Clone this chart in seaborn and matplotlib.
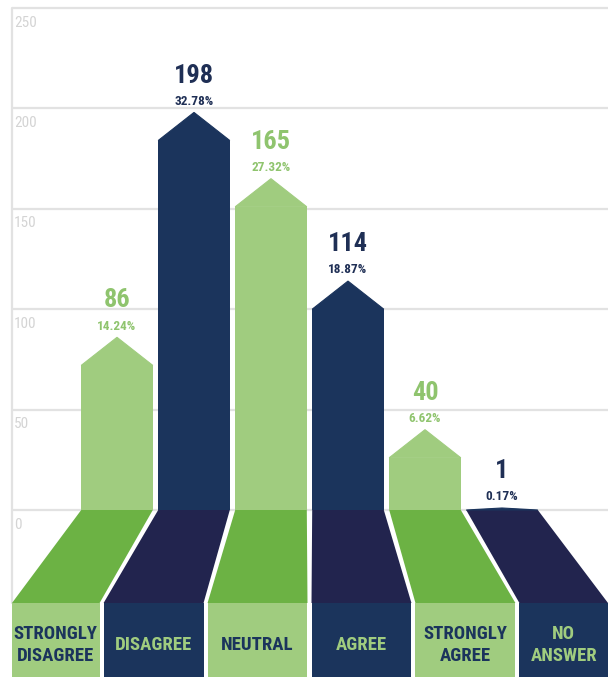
import numpy as np
import pandas as pd
import matplotlib
matplotlib.use("Agg")
import matplotlib.pyplot as plt
import seaborn as sns

# data
categories = ["STRONGLY\nDISAGREE", "DISAGREE", "NEUTRAL", "AGREE", "STRONGLY\nAGREE", "NO\nANSWER"]
counts = [86, 198, 165, 114, 40, 1]
percents = ["14.24%", "32.78%", "27.32%", "18.87%", "6.62%", "0.17%"]
yticks = [0, 50, 100, 150, 200, 250]

# colours
LIGHT_GREEN = "#a0cc7f"
NAVY = "#1b345c"
FLOOR_GREEN = "#6cb244"
FLOOR_NAVY = "#22244e"
VALUE_GREEN = "#8fc46e"
VALUE_NAVY = "#1f2f55"
GRID = "#e2e2e2"
TICK = "#d4d4d4"

sns.set_theme(style="white")
plt.rcParams["font.family"] = ["Roboto Condensed", "Liberation Sans Narrow", "DejaVu Sans"]
plt.rcParams["font.stretch"] = "condensed"

W, H = 608, 677
fig = plt.figure(figsize=(W / 100, H / 100), dpi=100)
ax = fig.add_axes([0, 0, 1, 1])

# layout (pixel geometry of the original -> data units)
px_per_unit = 2.008
base_px = 510
step_px = 77
first_px = 117
ROOF = 14          # depth of the pointed top
BAR_W = 0.93
FLOOR_Y = -(603 - base_px) / px_per_unit
FAN = 1.35         # how much the floor widens towards the labels
GAP = 0.026

colors = [LIGHT_GREEN, NAVY] * 3
floor_colors = [FLOOR_GREEN, FLOOR_NAVY] * 3
value_colors = [VALUE_GREEN, VALUE_NAVY] * 3
text_colors = [NAVY, LIGHT_GREEN] * 3

shafts = [max(v - ROOF, 0) for v in counts]
df = pd.DataFrame({"category": categories, "shaft": shafts})

sns.barplot(data=df, x="category", y="shaft", hue="category", palette=colors,
            width=BAR_W, linewidth=0, saturation=1, legend=False, ax=ax, zorder=3)

ymin = (base_px - H) / px_per_unit
ymax = base_px / px_per_unit
xmin = -first_px / step_px
xmax = (W - first_px) / step_px
x0 = (12 - first_px) / step_px  # left rule of the plot

# grid + left rule
ax.hlines(yticks, x0, xmax, color=GRID, lw=1.6, zorder=1)
ax.plot([x0, x0], [FLOOR_Y, yticks[-1]], color=GRID, lw=1.6, zorder=1)
for t in yticks:
    ax.annotate(str(t), xy=(x0, t), xytext=(1.5, -5.5), textcoords="offset points",
                ha="left", va="top", fontsize=11, color=TICK)

hw = BAR_W / 2
center = (len(counts) - 1) / 2


def fan(x):
    return center + FAN * (x - center)


for i, v in enumerate(counts):
    s = shafts[i]
    # pointed roof
    ax.fill([i - hw, i - hw, i, i + hw, i + hw], [s, s, v, s, s],
            color=colors[i], lw=0.8, ec=colors[i], zorder=3)
    # value labels
    ax.annotate(percents[i], xy=(i, v), xytext=(0, 5.5), textcoords="offset points",
                ha="center", va="baseline", fontsize=9.5, fontweight="bold",
                color=value_colors[i])
    ax.annotate(str(v), xy=(i, v), xytext=(0, 21.5), textcoords="offset points",
                ha="center", va="baseline", fontsize=19, fontweight="bold",
                color=value_colors[i])
    # floor trapezoid + label box
    left = max(fan(i - 0.5) + GAP, x0)
    right = min(fan(i + 0.5) - GAP, xmax)
    ax.fill([i - hw, i + hw, right, left], [0, 0, FLOOR_Y, FLOOR_Y],
            color=floor_colors[i], lw=0, zorder=2)
    ax.fill([left, right, right, left], [FLOOR_Y, FLOOR_Y, ymin, ymin],
            color=colors[i], lw=0, zorder=2)
    ax.text((left + right) / 2, (FLOOR_Y + ymin) / 2 - 2.5, categories[i],
            ha="center", va="center", fontsize=13.5, fontweight="bold",
            color=text_colors[i], linespacing=1.35, zorder=4)

ax.set_xlim(xmin, xmax)
ax.set_ylim(ymin, ymax)
ax.set_axis_off()

fig.savefig("out.png", dpi=100)
